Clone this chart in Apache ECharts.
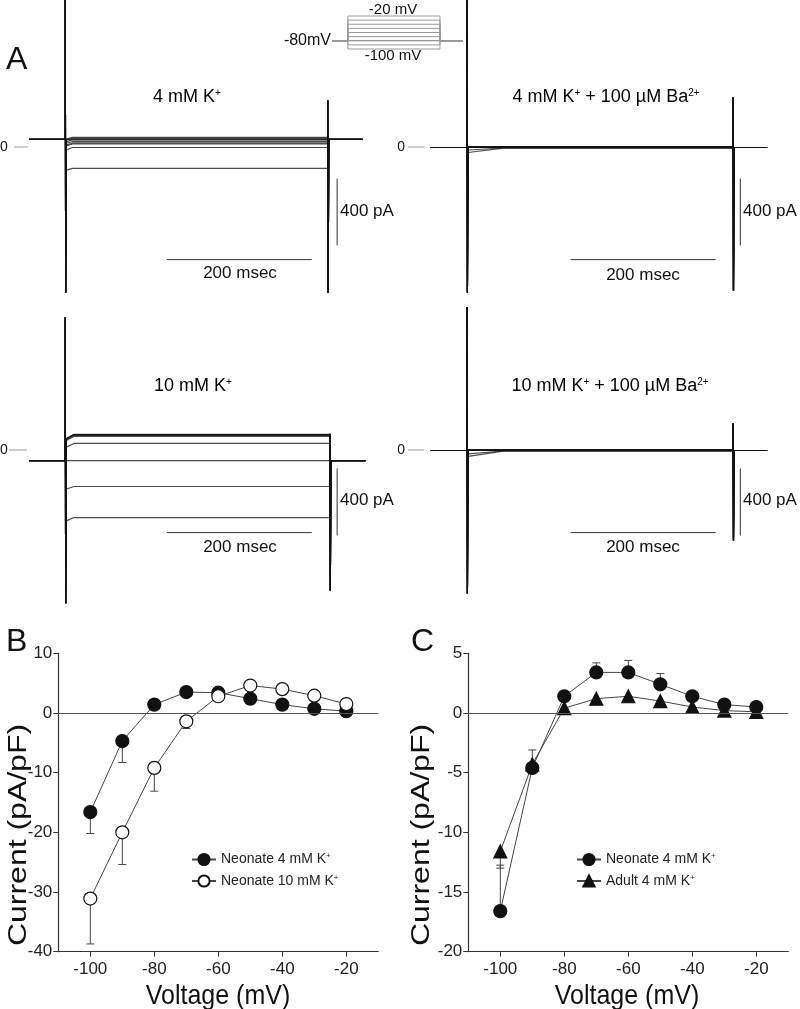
<!DOCTYPE html>
<html>
<head>
<meta charset="utf-8">
<script src="https://cdn.jsdelivr.net/npm/echarts@6/dist/echarts.min.js"></script>
<style>
html,body{margin:0;padding:0;background:#fff;}
#chart{width:800px;height:1009px;}
</style>
</head>
<body>
<div id="chart"></div>
<script>
// ---------------- DATA ----------------
// Voltage steps (mV)
const stepVoltages = [-100, -90, -80, -70, -60, -50, -40, -30, -20];

// Panel B (pA/pF)
const bNeonate4 = [-16.6, -4.7, 1.4, 3.5, 3.4, 2.4, 1.4, 0.7, 0.3];
const bNeonate4Err = [-3.6, -3.6, 0, 0, 0, 0, 0, 0, 0];
const bNeonate10 = [-31.1, -20.0, -9.2, -1.4, 2.8, 4.6, 4.0, 2.9, 1.5];
const bNeonate10Err = [-7.6, -5.4, -3.9, -1.2, 0, 0, 0, 0, 0];

// Panel C (pA/pF)
const cNeonate4 = [-16.6, -4.6, 1.4, 3.4, 3.4, 2.4, 1.4, 0.7, 0.5];
const cNeonate4Err = [3.85, 1.5, 0, 0.8, 1.0, 0.9, 0, 0, 0];
const cAdult4 = [-11.6, -4.3, 0.4, 1.2, 1.4, 1.0, 0.5, 0.2, 0.1];
const cAdult4Err = [-1.4, 0, 0, 0, 0, 0, 0, 0, 0];
const cStarVoltages = [-70, -60, -50];
const cStarLevels = [5.0, 5.1, 4.1];

const ivTicks = [-100, -80, -60, -40, -20];

// Panel A current traces (time in ms, current in pA), one level per voltage step
const traceK4 = { hold: 48, levels: [-125, 0, 48, 21, 27, 36, 45, 54, 60],
  initial: [-135, -15, 48, 10, 15, 25, 35, 45, 50], settle: 10,
  on: 50, off: 412, end: 460, onUp: 1000, onDown: -866, offUp: 281, offDown: -866 };
const traceBa4 = { hold: 0, levels: [-4, -3, 0, 1, 2, 3, 3, 4, 4],
  initial: [-30, -15, 0, 1, 2, 3, 3, 4, 4], settle: 50,
  on: 51, off: 418, end: 465, onUp: 1000, onDown: -866, offUp: 298, offDown: -854 };
const traceK10 = { hold: -60, levels: [-400, -215, -60, 42, 84, 90, 92, 95, 96],
  initial: [-420, -230, -60, 20, 60, 65, 68, 70, 72], settle: 12,
  on: 50, off: 415, end: 464, onUp: 794, onDown: -913, offUp: 100, offDown: -836 };
const traceBa10 = { hold: 0, levels: [-4, -3, 0, 1, 2, 3, 3, 4, 4],
  initial: [-35, -20, 0, 1, 2, 3, 3, 4, 4], settle: 50,
  on: 51, off: 418, end: 465, onUp: 854, onDown: -854, offUp: 161, offDown: -537 };

// Scale bars (400 pA / 200 msec) per trace panel
const scaleBarsTop = { vT: 425, vY0: -185, vY1: -585, hT0: 190, hT1: 390, hY: -669 };
const scaleBarsTopR = { vT: 428, vY0: -185, vY1: -585, hT0: 194, hT1: 394, hY: -669 };
const scaleBarsBot = { vT: 425, vY0: -107, vY1: -507, hT0: 190, hT1: 390, hY: -490 };
const scaleBarsBotR = { vT: 428, vY0: -107, vY1: -507, hT0: 194, hT1: 394, hY: -490 };

// Voltage protocol inset (ms, mV)
const protocolHold = -80;
const protocolTimes = [0, 62, 422, 512];
const protocolLevels = [-100, -90, -80, -70, -60, -50, -40, -30, -20];

// ---------------- BUILD ----------------
const FONT = "'Liberation Sans', Arial, Helvetica, sans-serif";
const PXMS = 0.725;       // px per ms
const YMIN = -910, YMAX = 880;

function buildTrace(p, i) {
  return [
    [0, p.hold], [p.on, p.hold], [p.on, p.onUp], [p.on + 0.6, p.onDown],
    [p.on + 1.5, p.initial[i]], [p.on + p.settle, p.levels[i]],
    [p.off, p.levels[i]], [p.off, p.offUp], [p.off + 0.6, p.offDown],
    [p.off + 1.5, p.hold], [p.end, p.hold]
  ];
}

const grids = [];
const xAxes = [];
const yAxes = [];
const series = [];

const tracePanels = [
  { p: traceK4, left: 29, top: 0, bars: scaleBarsTop },
  { p: traceBa4, left: 430, top: 0, bars: scaleBarsTopR },
  { p: traceK10, left: 29, top: 303, bars: scaleBarsBot },
  { p: traceBa10, left: 430, top: 303, bars: scaleBarsBotR }
];

tracePanels.forEach((tp, gi) => {
  grids.push({ left: tp.left, top: tp.top, width: tp.p.end * PXMS, height: 300, containLabel: false, outerBoundsMode: 'none' });
  xAxes.push({ gridIndex: gi, type: 'value', min: 0, max: tp.p.end, show: false });
  yAxes.push({ gridIndex: gi, type: 'value', min: YMIN, max: YMAX, show: false });
  stepVoltages.forEach((v, i) => {
    series.push({
      type: 'line', xAxisIndex: gi, yAxisIndex: gi, data: buildTrace(tp.p, i),
      showSymbol: false, symbol: 'none', clip: true, silent: true,
      lineStyle: { color: '#111', width: 1.2, opacity: 0.75 }, z: 2
    });
  });
  const b = tp.bars;
  series.push({
    type: 'line', xAxisIndex: gi, yAxisIndex: gi, data: [[b.vT, b.vY0], [b.vT, b.vY1]],
    symbol: 'none', silent: true, lineStyle: { color: '#333', width: 1 }
  });
  series.push({
    type: 'line', xAxisIndex: gi, yAxisIndex: gi, data: [[b.hT0, b.hY], [b.hT1, b.hY]],
    symbol: 'none', silent: true, lineStyle: { color: '#333', width: 1 }
  });
});

// protocol grid (index 4)
grids.push({ left: 332, top: 16, width: 131, height: 33, containLabel: false, outerBoundsMode: 'none' });
xAxes.push({ gridIndex: 4, type: 'value', min: protocolTimes[0], max: protocolTimes[3], show: false });
yAxes.push({ gridIndex: 4, type: 'value', min: -100, max: -20, show: false });
protocolLevels.forEach(v => {
  series.push({
    type: 'line', xAxisIndex: 4, yAxisIndex: 4,
    data: [[protocolTimes[0], protocolHold], [protocolTimes[1], protocolHold], [protocolTimes[1], v],
           [protocolTimes[2], v], [protocolTimes[2], protocolHold], [protocolTimes[3], protocolHold]],
    symbol: 'none', silent: true, clip: false,
    lineStyle: { color: v === protocolHold ? '#777' : '#999', width: 1 }
  });
});

// IV grids
function ivAxes(gi, left, ymin, ymax, yint) {
  grids.push({ left: left, top: 653.3, width: 320, height: 298.4, containLabel: false, outerBoundsMode: 'none' });
  xAxes.push({
    gridIndex: gi, type: 'value', min: -110, max: -10,
    axisLine: { show: true, onZero: false, lineStyle: { color: '#333', width: 1.2 } },
    axisTick: { show: true, length: 5, customValues: ivTicks, lineStyle: { color: '#333' } },
    axisLabel: { customValues: ivTicks, fontFamily: FONT, fontSize: 17, color: '#222', margin: 9 },
    splitLine: { show: false }
  });
  yAxes.push({
    gridIndex: gi, type: 'value', min: ymin, max: ymax, interval: yint,
    axisLine: { show: true, onZero: false, lineStyle: { color: '#333', width: 1.2 } },
    axisTick: { show: true, length: 5, lineStyle: { color: '#333' } },
    axisLabel: { fontFamily: FONT, fontSize: 17, color: '#222', margin: 6 },
    splitLine: { show: false }
  });
}
ivAxes(5, 58.3, -40, 10, 10);
ivAxes(6, 468.3, -20, 5, 5);

function errData(vals, errs) {
  const out = [];
  stepVoltages.forEach((v, i) => { if (errs[i] !== 0) out.push([v, vals[i], errs[i]]); });
  return out;
}
function errSeries(gi, vals, errs) {
  return {
    type: 'custom', xAxisIndex: gi, yAxisIndex: gi, silent: true, z: 1,
    data: errData(vals, errs), encode: { x: 0, y: 1 },
    renderItem: function (params, api) {
      const x = api.value(0), y = api.value(1), e = api.value(2);
      const p0 = api.coord([x, y]), p1 = api.coord([x, y + e]);
      const st = { stroke: '#444', lineWidth: 1 };
      return { type: 'group', children: [
        { type: 'line', shape: { x1: p0[0], y1: p0[1], x2: p1[0], y2: p1[1] }, style: st },
        { type: 'line', shape: { x1: p1[0] - 4, y1: p1[1], x2: p1[0] + 4, y2: p1[1] }, style: st }
      ] };
    }
  };
}
function zeroLine() {
  return { silent: true, symbol: 'none', label: { show: false },
    lineStyle: { color: '#555', width: 1, type: 'solid' }, data: [{ yAxis: 0 }] };
}
function ivSeries(gi, name, vals, symbol, filled, z, withZero) {
  const s = {
    type: 'line', name: name, xAxisIndex: gi, yAxisIndex: gi,
    data: stepVoltages.map((v, i) => [v, vals[i]]),
    symbol: symbol, symbolSize: 13, z: z,
    lineStyle: { color: '#444', width: 1 },
    itemStyle: { color: filled ? '#111' : '#fff', borderColor: '#111', borderWidth: 1.2 },
    emphasis: { disabled: true }
  };
  if (withZero) s.markLine = zeroLine();
  return s;
}

series.push(errSeries(5, bNeonate4, bNeonate4Err));
series.push(errSeries(5, bNeonate10, bNeonate10Err));
series.push(ivSeries(5, 'Neonate 4 mM K+', bNeonate4, 'circle', true, 3, true));
series.push(ivSeries(5, 'Neonate 10 mM K+', bNeonate10, 'circle', false, 4, false));

series.push(errSeries(6, cNeonate4, cNeonate4Err));
series.push(errSeries(6, cAdult4, cAdult4Err));
series.push(ivSeries(6, 'Adult 4 mM K+', cAdult4, 'triangle', true, 3, true));
series.push(ivSeries(6, 'Neonate 4 mM K+', cNeonate4, 'circle', true, 4, false));
series.push({
  type: 'scatter', xAxisIndex: 6, yAxisIndex: 6, silent: true,
  data: cStarVoltages.map((v, i) => [v, cStarLevels[i]]),
  symbolSize: 1, itemStyle: { opacity: 0 },
  label: { show: true, formatter: '*', position: 'inside', offset: [0, 4],
    fontFamily: FONT, fontSize: 16, color: '#111' }
});

const richLegend = {
  t: { fontFamily: FONT, fontSize: 14, color: '#222' },
  s: { fontFamily: FONT, fontSize: 8, color: '#222', padding: [0, 0, 7, 0] }
};
function legendFmt(n) { return '{t|' + n.replace('+', '') + '}{s|+}'; }

// graphic annotations
const sup = { fontFamily: FONT, fontSize: 10, color: '#111', padding: [0, 0, 8, 0] };
const lab = { fontFamily: FONT, fontSize: 18, color: '#111' };
function titleText(x, y, text) {
  return { type: 'text', x: x, y: y, silent: true,
    style: { text: text, align: 'center', verticalAlign: 'middle', rich: { a: lab, s: sup } } };
}
function plainText(x, y, text, size, align) {
  return { type: 'text', x: x, y: y, silent: true,
    style: { text: text, fontFamily: FONT, fontSize: size, fill: '#111', align: align || 'left', verticalAlign: 'middle' } };
}
function axisTitle(x, y, text, size, rot, sx, sy) {
  return { type: 'text', x: x, y: y, rotation: rot, scaleX: sx, scaleY: sy, silent: true,
    style: { text: text, fontFamily: FONT, fontSize: size, fill: '#111', align: 'center', verticalAlign: 'middle' } };
}
function hline(x1, x2, y, color) {
  return { type: 'line', silent: true, shape: { x1: x1, y1: y, x2: x2, y2: y }, style: { stroke: color, lineWidth: 1 } };
}

const graphic = [
  plainText(6, 60, 'A', 32),
  plainText(6, 642, 'B', 32),
  plainText(411, 642, 'C', 32),
  titleText(187, 97, '{a|4 mM K}{s|+}'),
  titleText(606, 97, '{a|4 mM K}{s|+}{a| + 100 µM Ba}{s|2+}'),
  titleText(193, 386, '{a|10 mM K}{s|+}'),
  titleText(610, 386, '{a|10 mM K}{s|+}{a| + 100 µM Ba}{s|2+}'),
  plainText(340, 211, '400 pA', 17),
  plainText(743, 211, '400 pA', 17),
  plainText(340, 500, '400 pA', 17),
  plainText(743, 500, '400 pA', 17),
  plainText(240, 273, '200 msec', 17, 'center'),
  plainText(643, 275, '200 msec', 17, 'center'),
  plainText(240, 547, '200 msec', 17, 'center'),
  plainText(643, 547, '200 msec', 17, 'center'),
  plainText(0, 147, '0', 14),
  hline(14, 28, 147, '#999'),
  plainText(405, 147, '0', 14, 'right'),
  hline(408, 425, 147, '#999'),
  plainText(0, 450, '0', 14),
  hline(9, 27, 450, '#999'),
  plainText(405, 450, '0', 14, 'right'),
  hline(408, 424, 450, '#999'),
  plainText(331, 41, '-80mV', 16, 'right'),
  plainText(393, 10, '-20 mV', 15, 'center'),
  plainText(393, 56, '-100 mV', 15, 'center'),
  axisTitle(19, 835, 'Current (pA/pF)', 26, Math.PI / 2, 1.23, 1),
  axisTitle(422, 835, 'Current (pA/pF)', 26, Math.PI / 2, 1.23, 1),
  axisTitle(218, 996, 'Voltage (mV)', 25, 0, 1, 1.12),
  axisTitle(627, 996, 'Voltage (mV)', 25, 0, 1, 1.12)
];

const chart = echarts.init(document.getElementById('chart'), null, { renderer: 'canvas' });
chart.setOption({
  backgroundColor: '#fff',
  animation: false,
  grid: grids,
  xAxis: xAxes,
  yAxis: yAxes,
  legend: [
    { data: ['Neonate 4 mM K+', 'Neonate 10 mM K+'], left: 186, top: 847, orient: 'vertical',
      itemWidth: 24, itemHeight: 14, itemGap: 7, selectedMode: false,
      formatter: legendFmt, textStyle: { rich: richLegend } },
    { data: ['Neonate 4 mM K+', 'Adult 4 mM K+'], left: 571, top: 847, orient: 'vertical',
      itemWidth: 24, itemHeight: 14, itemGap: 7, selectedMode: false,
      formatter: legendFmt, textStyle: { rich: richLegend } }
  ],
  graphic: graphic,
  series: series
});
</script>
</body>
</html>
